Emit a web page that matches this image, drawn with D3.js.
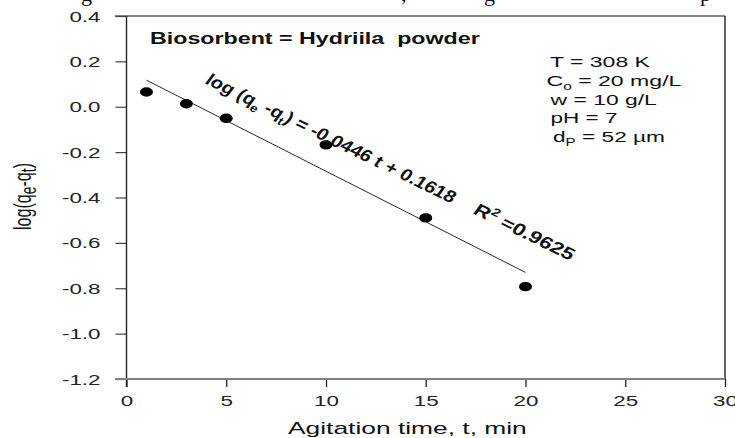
<!DOCTYPE html>
<html>
<head>
<meta charset="utf-8">
<script src="https://cdn.jsdelivr.net/npm/d3@7"></script>
<style>
html,body{margin:0;padding:0;background:#fff;}
svg{display:block;}
text{font-family:"Liberation Sans",Arial,sans-serif;fill:#111;white-space:pre;}
</style>
</head>
<body>
<svg id="chart" width="735" height="438"></svg>
<script>
// ---- data ----
const time = [1, 3, 5, 10, 15, 20];
const logDiff = [0.065, 0.013, -0.051, -0.168, -0.49, -0.793];
const fitSlope = -0.0446;
const fitIntercept = 0.1618;
const fitRange = [1, 20];
const xTicks = [0, 5, 10, 15, 20, 25, 30];
const yTicks = [0.4, 0.2, 0.0, -0.2, -0.4, -0.6, -0.8, -1.0, -1.2];
const yTickLabels = ["0.4", "0.2", "0.0", "-0.2", "-0.4", "-0.6", "-0.8", "-1.0", "-1.2"];
const xTitle = "Agitation time, t, min";
const boxTitle = "Biosorbent = Hydriila  powder";
const params = [
  {main: "T = 308 K"},
  {main: "C", sub: "o", rest: " = 20 mg/L"},
  {main: "w = 10 g/L"},
  {main: "pH = 7"},
  {main: "d", sub: "P", rest: " = 52 \u00b5m"}
];
const r2Text = "R";
const r2Value = " =0.9625";

// ---- layout ----
const svg = d3.select("#chart");
const L = 126.5, R = 725, T = 16, B = 379;
const x = d3.scaleLinear().domain([0, 30]).range([L, R]);
const y = d3.scaleLinear().domain([-1.2, 0.4]).range([B, T]);
const STRETCH = 1.22;

function fitWidth(sel, w, sy) {
  const bb = sel.node().getBBox();
  sel.attr("transform", `scale(${w / bb.width},${sy || 1})`);
}

// clipped caption text at top (only descenders visible)
const cap = svg.append("text").attr("y", 1)
  .style("font-family", "'Liberation Serif','Times New Roman',serif")
  .style("font-size", "22px");
[["g", 81], [",", 401], ["g", 484], ["p", 700]].forEach(([c, px]) => {
  cap.append("tspan").attr("x", px).text(c);
});

// frame
svg.append("line").attr("x1", 115).attr("x2", R).attr("y1", T).attr("y2", T)
  .attr("stroke", "#111").attr("stroke-width", 1.2);
svg.append("line").attr("x1", R).attr("x2", R).attr("y1", T).attr("y2", B)
  .attr("stroke", "#111").attr("stroke-width", 1.3);

// y axis
const yAxis = svg.append("g").attr("transform", `translate(${L},0)`)
  .call(d3.axisLeft(y).tickValues(yTicks).tickSize(11)
    .tickFormat((d, i) => yTickLabels[i]));
yAxis.select(".domain").remove();
yAxis.selectAll(".tick line").attr("stroke", "#444").attr("stroke-width", 1.2);
yAxis.selectAll(".tick text")
  .attr("x", 0).attr("dy", "0.36em")
  .attr("text-anchor", "end")
  .style("font-size", "14px").style("fill", "#222")
  .attr("transform", "translate(-26,0) scale(1.6,1)");
svg.append("line").attr("x1", L).attr("x2", L).attr("y1", T).attr("y2", B + 8)
  .attr("stroke", "#222").attr("stroke-width", 1.4);

// x axis
const xAxis = svg.append("g").attr("transform", `translate(0,${B})`)
  .call(d3.axisBottom(x).tickValues(xTicks).tickSize(8).tickFormat(d3.format("d")));
xAxis.select(".domain").remove();
xAxis.selectAll(".tick line").attr("stroke", "#222").attr("stroke-width", 1.3);
xAxis.selectAll(".tick text")
  .attr("y", 0).attr("dy", "0.36em")
  .attr("text-anchor", "middle")
  .style("font-size", "14px").style("fill", "#222")
  .attr("transform", "translate(0,22) scale(1.6,1)");
svg.append("line").attr("x1", 115).attr("x2", R).attr("y1", B).attr("y2", B)
  .attr("stroke", "#808080").attr("stroke-width", 2);

// x title
const xtG = svg.append("g").attr("transform", "translate(288,434)");
const xt = xtG.append("text").attr("text-anchor", "start")
  .style("font-size", "16px").text(xTitle);
fitWidth(xt, 239);

// y title
const ytG = svg.append("g").attr("transform", "translate(31,196.5) rotate(-90)");
const yt = ytG.append("text").attr("text-anchor", "middle").style("font-size", "15px");
yt.append("tspan").text("log(q");
yt.append("tspan").attr("dy", 3).style("font-size", "13px").text("e");
yt.append("tspan").attr("dy", -3).text("-q");
yt.append("tspan").attr("dy", 3).style("font-size", "13px").text("t");
yt.append("tspan").attr("dy", -3).text(")");
{
  const bb = yt.node().getBBox();
  yt.attr("transform", `scale(${67 / bb.width},1.65)`);
}

// box title
const btG = svg.append("g").attr("transform", "translate(150,43.5)");
const bt = btG.append("text").style("font-size", "16px").style("font-weight", "bold").text(boxTitle);
fitWidth(bt, 330);

// parameters
const pX = [550, 546.5, 550.5, 550.5, 553];
const pY = [67, 85.5, 104.5, 123, 141.5];
const pW = [100, 135, 108, 67, 112];
params.forEach((p, i) => {
  const g = svg.append("g").attr("transform", `translate(${pX[i]},${pY[i]})`);
  const t = g.append("text").style("font-size", "15px");
  t.append("tspan").text(p.main);
  if (p.sub) {
    t.append("tspan").attr("dy", 4).style("font-size", "10px").text(p.sub);
    t.append("tspan").attr("dy", -4).text(p.rest);
  }
  fitWidth(t, pW[i]);
});

// regression line
svg.append("line")
  .attr("x1", x(fitRange[0])).attr("y1", y(fitSlope * fitRange[0] + fitIntercept))
  .attr("x2", x(fitRange[1])).attr("y2", y(fitSlope * fitRange[1] + fitIntercept))
  .attr("stroke", "#111").attr("stroke-width", 0.9);

// points
svg.append("g").selectAll("ellipse").data(time).join("ellipse")
  .attr("cx", (d) => x(d))
  .attr("cy", (d, i) => y(logDiff[i]))
  .attr("rx", 6.5).attr("ry", 4.7)
  .attr("fill", "#000");

// rotated annotation texts (rotated, then stretched horizontally like the picture)
const theta0 = Math.atan(Math.tan(26 * Math.PI / 180) * STRETCH) * 180 / Math.PI;
const cos0 = Math.cos(theta0 * Math.PI / 180);

const eqG = svg.append("g")
  .attr("transform", `translate(204,83) scale(${STRETCH},1) rotate(${theta0})`);
const eq = eqG.append("text").style("font-size", "15px").style("font-weight", "bold");
eq.append("tspan").text("log (q");
eq.append("tspan").attr("dy", 4).style("font-size", "10px").text("e");
eq.append("tspan").attr("dy", -4).text(" -q");
eq.append("tspan").attr("dy", 4).style("font-size", "10px").text("t");
eq.append("tspan").attr("dy", -4).text(`) = ${fitSlope} t + ${fitIntercept}`);
fitWidth(eq, 247 / (cos0 * STRETCH), 1.12);

const r2G = svg.append("g")
  .attr("transform", `translate(472,213) scale(${STRETCH},1) rotate(${theta0})`);
const r2 = r2G.append("text").style("font-size", "15px").style("font-weight", "bold");
r2.append("tspan").text(r2Text);
r2.append("tspan").attr("dy", -6).style("font-size", "10px").text("2");
r2.append("tspan").attr("dy", 6).text(r2Value);
fitWidth(r2, 98 / (cos0 * STRETCH), 1.12);
</script>
</body>
</html>
